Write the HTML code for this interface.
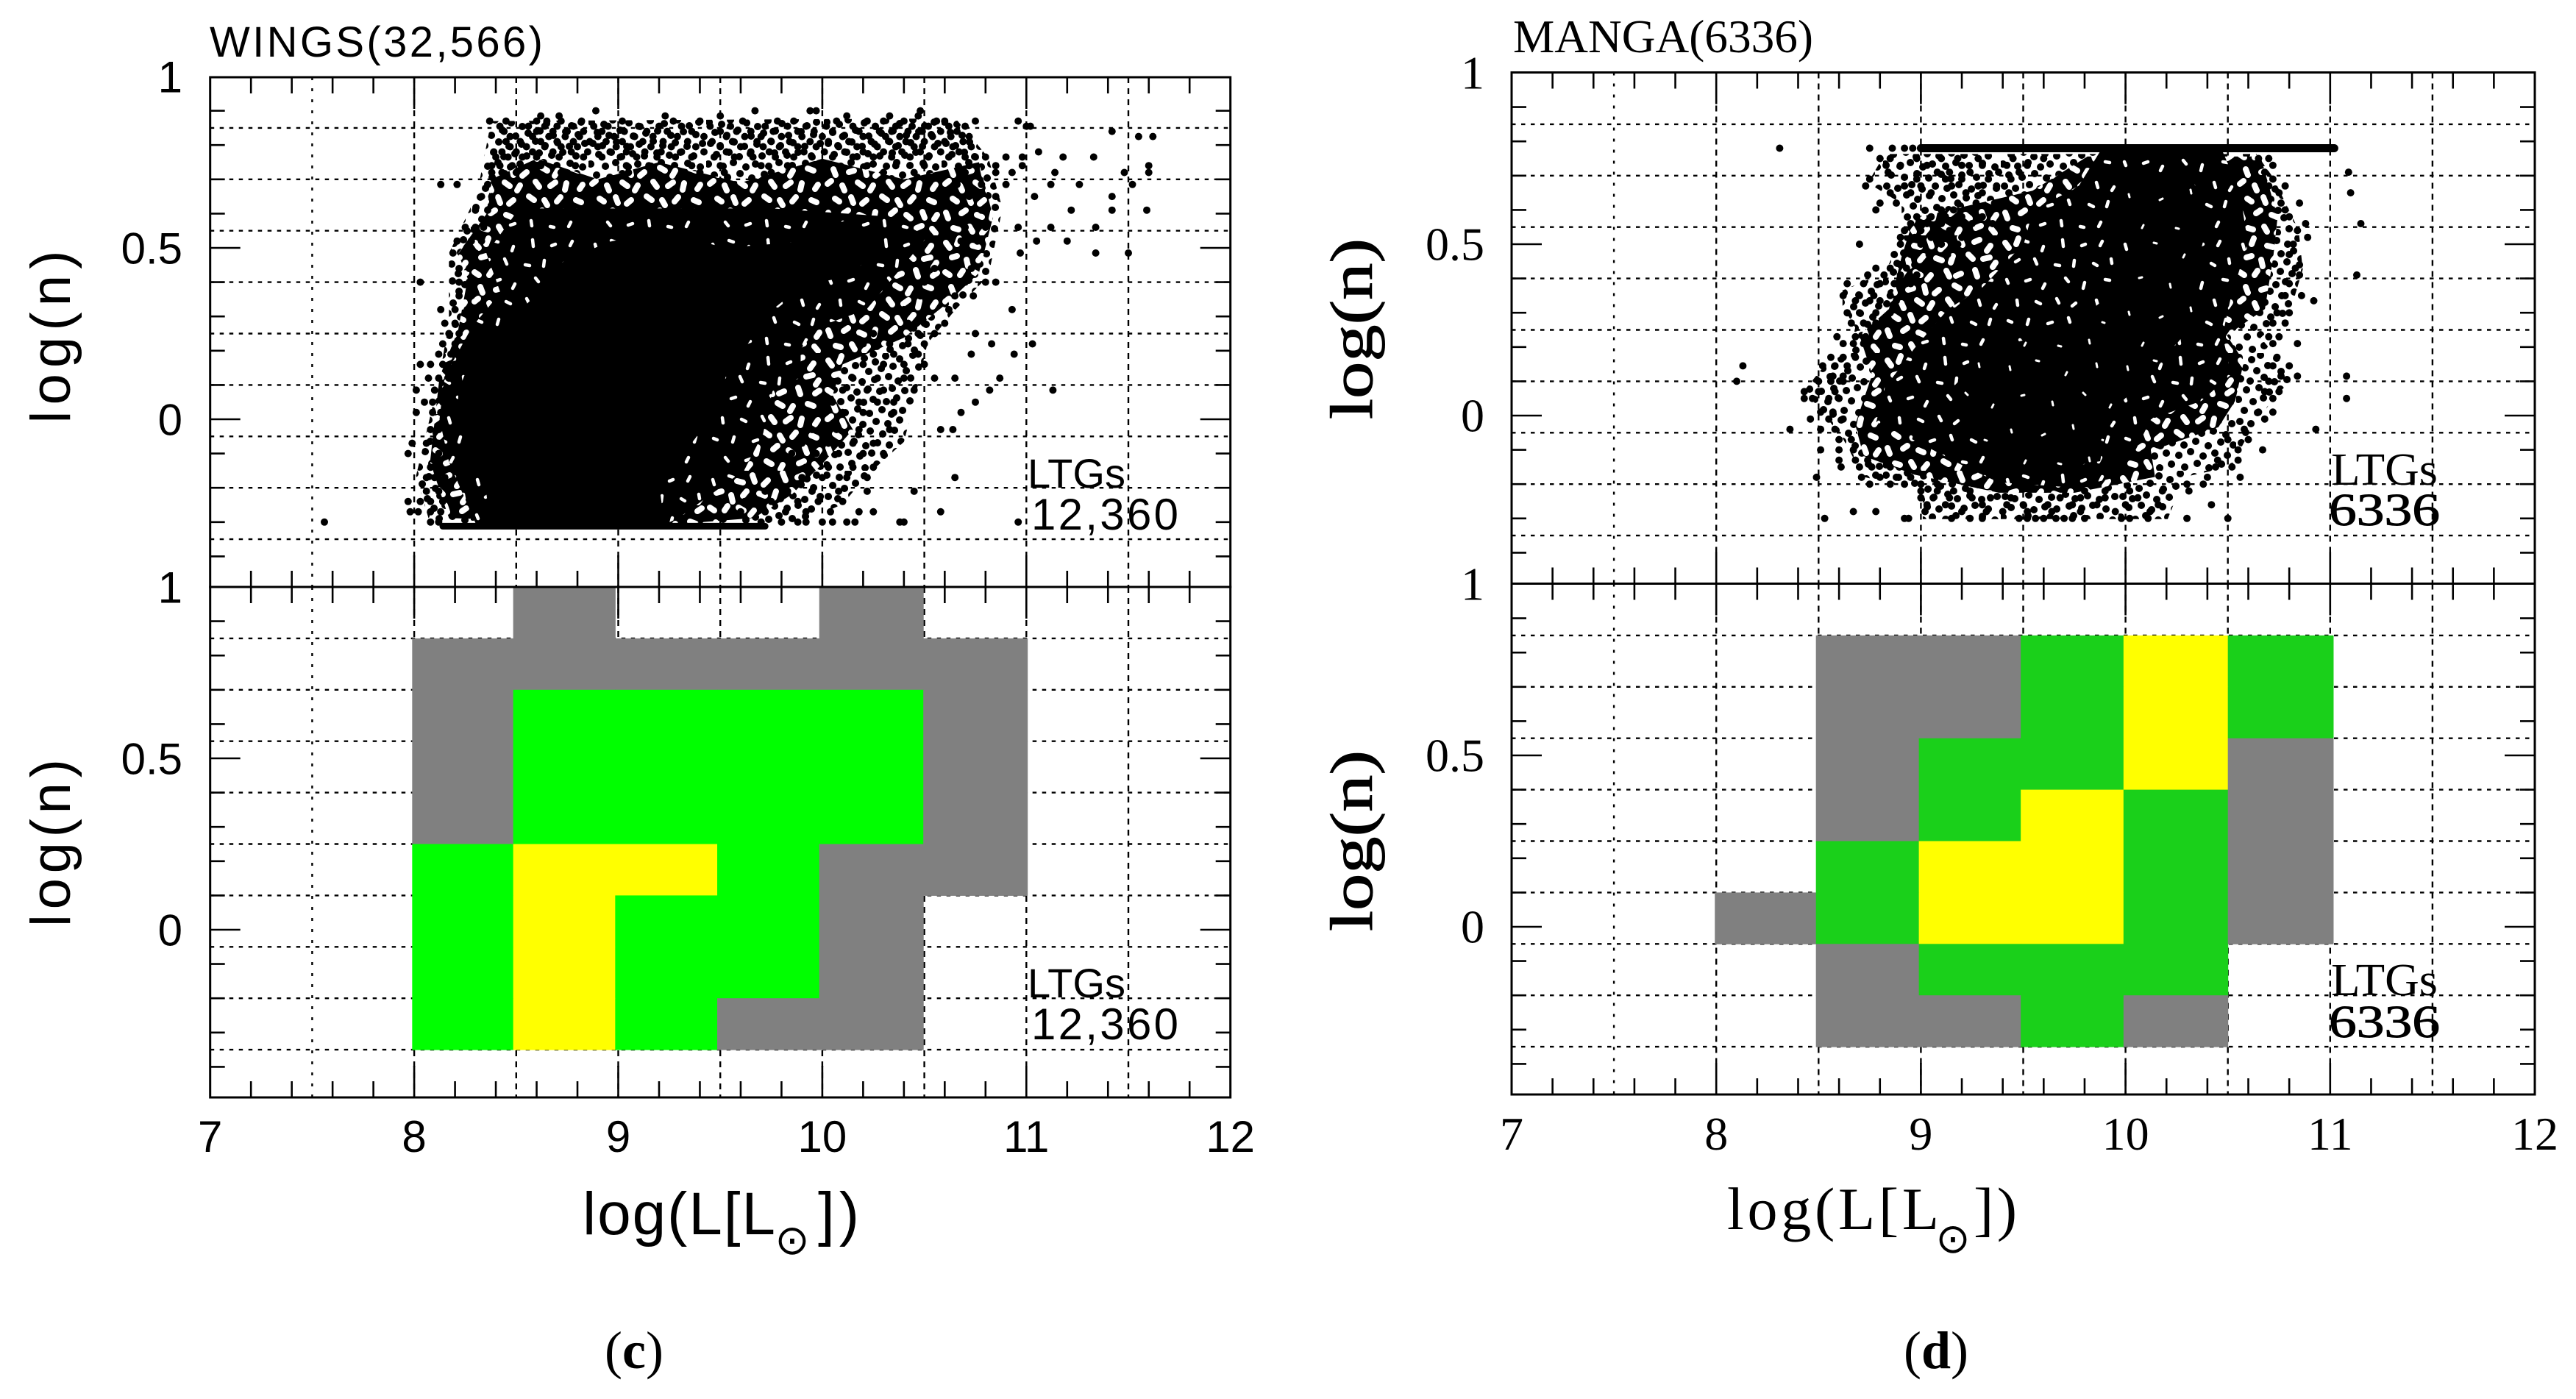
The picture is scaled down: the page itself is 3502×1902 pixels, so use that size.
<!DOCTYPE html>
<html lang="en">
<head>
<meta charset="utf-8">
<title>WINGS and MANGA log(n) vs log(L)</title>
<style>
html,body{margin:0;padding:0;background:#fff}
svg{display:block}
.sans{font-family:"Liberation Sans",sans-serif}
.serif{font-family:"Liberation Serif",serif}
</style>
</head>
<body>
<svg id="figure" xmlns="http://www.w3.org/2000/svg" width="3502" height="1902" viewBox="0 0 3502 1902">
<defs>
<pattern id="tile-sparse" patternUnits="userSpaceOnUse" width="160" height="160">
<path d="M4 6h.1M21 9h.1M33 3h.1M55 7h.1M70 12h.1M84 4h.1M103 8h.1M121 3h.1M137 11h.1M150 6h.1M12 20h.1M28 24h.1M43 17h.1M61 25h.1M78 21h.1M94 18h.1M112 24h.1M129 19h.1M146 23h.1M6 35h.1M19 38h.1M38 33h.1M52 39h.1M69 36h.1M88 32h.1M101 38h.1M118 34h.1M134 39h.1M155 35h.1M14 50h.1M31 47h.1M45 53h.1M60 49h.1M76 52h.1M93 48h.1M110 51h.1M125 47h.1M143 52h.1M3 63h.1M23 66h.1M37 61h.1M54 67h.1M67 63h.1M85 66h.1M99 61h.1M117 65h.1M135 62h.1M152 67h.1M11 78h.1M29 81h.1M46 76h.1M62 82h.1M79 77h.1M92 83h.1M107 78h.1M127 81h.1M144 76h.1M5 93h.1M20 96h.1M39 91h.1M53 97h.1M71 93h.1M87 96h.1M103 91h.1M120 97h.1M136 92h.1M154 96h.1M13 108h.1M32 105h.1M47 111h.1M63 106h.1M80 110h.1M96 105h.1M113 109h.1M129 106h.1M146 111h.1M7 122h.1M24 125h.1M41 120h.1M57 126h.1M73 122h.1M89 125h.1M105 120h.1M122 126h.1M139 121h.1M156 125h.1M15 138h.1M33 135h.1M49 140h.1M65 136h.1M82 139h.1M98 134h.1M115 140h.1M131 136h.1M148 139h.1M4 152h.1M22 155h.1M38 150h.1M56 156h.1M72 151h.1M90 155h.1M107 150h.1M123 156h.1M140 151h.1M155 154h.1" stroke="#000" stroke-width="10" stroke-linecap="round" fill="none"/>
</pattern>
<pattern id="tile-medium" patternUnits="userSpaceOnUse" width="160" height="160">
<rect width="160" height="160" fill="#000"/>
<path d="M6 10l5 7M24 4l-3 8M42 14l8 2M63 6l3 9M84 13l-6 6M104 3l4 10M124 9l7-3M146 14l-5 7M14 30l7-2M34 33l2 9M55 28l-5 6M72 31l8 3M95 28l-3 9M116 26l6 6M136 32l9-2M153 37l-4 6M5 50l6 4M25 54l4-6M44 50l7 4M65 54l-5 6M86 48l4 8M106 52l-7 3M125 47l3 9M148 55l6-4M13 70l3 8M34 74l7-2M56 69l2 9M76 74l-6 5M97 68l7 4M118 72l-4 7M138 69l8 3M5 90l5-4M25 92l3 7M46 88l7 5M67 92l-4 7M88 87l5 7M108 93l7-5M130 89l-2 9M152 91l-4 6M15 110l6 4M37 108l3 8M58 112l-6 5M79 107l7 5M100 112l4 7M122 108l-5 6M143 112l7 3M6 129l3 8M27 130l6-4M48 132l7 3M70 128l-2 9M91 131l6-5M112 132l6 5M134 128l3 8M154 132l-4 6M16 150l7 2M38 148l4 7M60 151l-5 6M82 147l7 4M104 152l-3 6M126 150l7-3M147 151l5 6" stroke="#fff" stroke-width="8" stroke-linecap="round" fill="none"/>
</pattern>
<pattern id="tile-dense" patternUnits="userSpaceOnUse" width="160" height="160">
<rect width="160" height="160" fill="#000"/>
<path d="M9 12l2 7M31 7l6 2M58 15l-2 6M84 6l1 9M110 14l5-2M138 8l-3 6M20 36l5-3M46 32l3 7M74 40l6 1M100 34l-1 8M126 38l5 3M150 32l1 6M8 60l2 5M34 62l6-2M60 66l-3 6M88 58l4 5M114 64l-2 8M142 60l6 1M22 88l1 7M48 90l6 3M76 86l3 6M102 92l-5 4M130 88l2 7M154 94l-3 5M10 116l5 2M38 114l-2 7M64 120l6-2M92 112l2 6M120 118l6 3M146 114l-2 7M26 142l4 5M54 146l6-2M82 140l1 7M108 148l5 1M136 142l-3 6" stroke="#fff" stroke-width="4.5" stroke-linecap="round" fill="none"/>
</pattern>
<pattern id="tile-core" patternUnits="userSpaceOnUse" width="160" height="160">
<rect width="160" height="160" fill="#000"/>
<path d="M12 18l1 5M48 10l4 1M90 26l-2 4M130 14l1 5M28 58l4-1M70 66l1 5M112 54l3 3M150 70l-2 4M14 104l1 4M56 112l4-2M98 98l1 5M138 118l3 1M34 146l-2 4M78 150l4 1M120 142l1 5" stroke="#fff" stroke-width="3" stroke-linecap="round" fill="none"/>
</pattern>
</defs>
<g id="layer-grid"></g>
<g id="layer-marks"></g>
<g id="layer-frame"></g>
<g id="layer-labels"></g>

<text class="sans" x="285" y="77" font-size="58" textLength="453" fill="#000">WINGS(32,566)</text>
<text class="serif" x="2057" y="71" font-size="64" textLength="408" lengthAdjust="spacingAndGlyphs" fill="#000">MANGA(6336)</text>

<text class="sans" transform="translate(95,458) rotate(-90)" text-anchor="middle" font-size="76" textLength="235" fill="#000">log(n)</text>
<text class="sans" transform="translate(95,1146) rotate(-90)" text-anchor="middle" font-size="76" textLength="228" fill="#000">log(n)</text>
<text class="serif" transform="translate(1865,447) rotate(-90)" text-anchor="middle" font-size="82" textLength="246" lengthAdjust="spacingAndGlyphs" fill="#000" stroke="#000" stroke-width="1">log(n)</text>
<text class="serif" transform="translate(1865,1143) rotate(-90)" text-anchor="middle" font-size="82" textLength="246" lengthAdjust="spacingAndGlyphs" fill="#000" stroke="#000" stroke-width="1">log(n)</text>

<g>
<text class="sans" x="792" y="1678" font-size="82" textLength="262" fill="#000">log(L[L</text>
<text x="1077" y="1705" font-size="56" text-anchor="middle" style="font-family:'DejaVu Sans',sans-serif" fill="#000">⊙</text>
<text class="sans" x="1112" y="1678" font-size="82" textLength="56" fill="#000">])</text>
</g>
<g>
<text class="serif" x="2348" y="1671" font-size="82" textLength="288" fill="#000">log(L[L</text>
<text x="2655" y="1703" font-size="56" text-anchor="middle" style="font-family:'DejaVu Sans',sans-serif" fill="#000">⊙</text>
<text class="serif" x="2683" y="1671" font-size="82" textLength="59" fill="#000">])</text>
</g>

<text class="sans" x="1397" y="663" font-size="56" textLength="133" fill="#000">LTGs</text>
<text class="sans" x="1402" y="720" font-size="60" textLength="200" fill="#000">12,360</text>
<text class="sans" x="1397" y="1356" font-size="56" textLength="133" fill="#000">LTGs</text>
<text class="sans" x="1402" y="1413" font-size="60" textLength="200" fill="#000">12,360</text>
<text class="serif" x="3169" y="659" font-size="62" textLength="145" lengthAdjust="spacingAndGlyphs" fill="#000">LTGs</text>
<text class="serif" x="3166" y="714" font-size="62" textLength="151" lengthAdjust="spacingAndGlyphs" fill="#000" stroke="#000" stroke-width="1">6336</text>
<text class="serif" x="3169" y="1353" font-size="62" textLength="145" lengthAdjust="spacingAndGlyphs" fill="#000">LTGs</text>
<text class="serif" x="3166" y="1410" font-size="62" textLength="151" lengthAdjust="spacingAndGlyphs" fill="#000" stroke="#000" stroke-width="1">6336</text>

<text class="serif" x="862" y="1860" font-size="72" text-anchor="middle" fill="#000">(<tspan font-weight="bold">c</tspan>)</text>
<text class="serif" x="2632" y="1860" font-size="72" text-anchor="middle" fill="#000">(<tspan font-weight="bold">d</tspan>)</text>
</svg>

<script>
// ---- axis values ----
const xTickValues = [7, 8, 9, 10, 11, 12];
const xTickLabels = ['7', '8', '9', '10', '11', '12'];
const yTickValues = [1, 0.5, 0];
const yTickLabels = ['1', '0.5', '0'];
const xGridValues = [7.5, 8, 8.5, 9, 9.5, 10, 10.5, 11, 11.5];
const yGridValues = [0.85, 0.7, 0.55, 0.4, 0.25, 0.1, -0.05, -0.2, -0.35];

// ---- binned panels: rows listed from top to bottom ----
const wingsBinEdgesX = [7.99, 8.485, 8.985, 9.485, 9.985, 10.495, 11.005];
const mangaBinEdgesX = [7.993, 8.487, 8.99, 9.488, 9.99, 10.5, 11.015];
const wingsBinStartY = [0.85, 0.7, 0.55, 0.4, 0.25, 0.1, -0.05, -0.2, -0.35];
const mangaBinStartY = [0.7, 0.55, 0.4, 0.25, 0.1, -0.05, -0.2, -0.35];
const wingsLevels = [
 [0,1,0,0,1,0],
 [1,1,1,1,1,1],
 [1,2,2,2,2,1],
 [1,2,2,2,2,1],
 [1,2,2,2,2,1],
 [2,3,3,2,1,1],
 [2,3,2,2,1,0],
 [2,3,2,2,1,0],
 [2,3,2,1,1,0]
];
const mangaLevels = [
 [0,1,1,2,3,2],
 [0,1,1,2,3,2],
 [0,1,2,2,3,1],
 [0,1,2,3,2,1],
 [0,2,3,3,2,1],
 [1,2,3,3,2,1],
 [0,1,2,2,2,0],
 [0,1,1,2,1,0]
];

// ---- overplotted regions, [log L, log n] vertices ----
const wingsSparseRegion = [[8.377,.87],[10.653,.878],[10.814,.763],[10.883,.615],[10.814,.418],[10.653,.32],[10.515,.221],[10.446,.041],[10.4,-.066],[10.216,-.165],[10.101,-.247],[9.894,-.304],[8.078,-.304],[8.009,-.165],[8.124,.123],[8.17,.287],[8.17,.484],[8.308,.657]];
const wingsMediumRegion = [[8.377,.7],[8.6,.76],[8.9,.7],[9.2,.75],[9.6,.69],[10,.76],[10.4,.7],[10.768,.75],[10.837,.591],[10.768,.427],[10.607,.336],[10.4,.238],[10.1,.16],[10.05,.07],[10.15,-.03],[10,-.13],[9.85,-.22],[9.664,-.288],[9.2,-.31],[8.17,-.288],[8.078,-.124],[8.124,.123],[8.216,.262],[8.262,.41],[8.216,.484],[8.354,.599]];
const wingsDenseRegion = [[8.515,.615],[9.066,.615],[9.756,.615],[10.331,.591],[10.515,.533],[10.354,.418],[10.216,.32],[9.986,.271],[9.894,.205],[9.894,.123],[9.756,.082],[9.71,-.041],[9.618,-.148],[9.296,-.288],[9.204,-.313],[8.308,-.313],[8.17,-.124],[8.124,0],[8.147,.123],[8.285,.271],[8.423,.369],[8.354,.484]];
const wingsCoreRegion = [[8.377,-.313],[9.227,-.313],[9.204,-.206],[9.342,-.083],[9.48,.024],[9.526,.123],[9.664,.246],[9.756,.32],[9.894,.386],[10.124,.418],[10.262,.484],[10.308,.533],[10.124,.583],[9.871,.517],[9.526,.5],[9.204,.55],[8.951,.517],[8.699,.451],[8.607,.369],[8.469,.287],[8.308,.221],[8.216,.082],[8.216,-.025],[8.331,-.124]];
const mangaSparseRegion = [[9.009,-.302],[10.206,-.302],[10.289,-.179],[10.516,-.149],[10.598,-.057],[10.722,.05],[10.825,.112],[10.66,.227],[10.804,.303],[10.866,.426],[10.846,.541],[10.722,.694],[10.64,.763],[8.824,.763],[8.741,.679],[8.906,.618],[8.906,.518],[8.824,.418],[8.617,.365],[8.617,.319],[8.679,.257],[8.658,.196],[8.514,.135],[8.431,.074],[8.535,-.003],[8.617,-.065],[8.72,-.179],[9.009,-.218]];
const mangaMediumRegion = [[8.989,.579],[9.546,.656],[9.814,.756],[10.66,.756],[10.743,.579],[10.722,.464],[10.681,.311],[10.495,.234],[10.578,.158],[10.536,.043],[10.454,-.034],[10.124,-.103],[10.144,-.179],[9.752,-.225],[9.381,-.225],[8.968,-.172],[8.72,-.118],[8.679,-.026],[8.762,.12],[8.7,.234],[8.844,.311],[8.906,.464],[8.947,.541]];
const mangaDenseRegion = [[9.876,.771],[10.474,.771],[10.557,.656],[10.598,.503],[10.516,.349],[10.474,.234],[10.516,.12],[10.371,.043],[10.124,-.011],[10.041,-.11],[9.958,-.179],[9.752,-.21],[9.381,-.195],[9.216,-.149],[8.968,-.072],[8.782,-.018],[8.824,.081],[8.968,.196],[9.133,.311],[9.298,.372],[9.504,.503],[9.546,.595],[9.773,.671]];
const mangaCoreRegion = [[9.958,.694],[10.33,.694],[10.392,.541],[10.33,.388],[10.392,.311],[10.124,.12],[9.917,.005],[9.876,-.133],[9.504,-.172],[9.298,-.072],[9.154,.081],[9.339,.196],[9.711,.25],[9.917,.349],[10.041,.503]];

// ---- saturated bands, [log L start, log L end, log n] ----
const wingsFloorBand = [8.14, 9.72, -0.312];
const mangaCeilingBand = [9.0, 11.02, 0.78];

// ---- individually read points: [log n, log L, log L, ...] ----
const wingsRows = [
[.9,8.89,9.67,9.94,9.97,10.48],
[.885,8.62,8.71,9.23,9.5,10.12,10.33,10.47],
[.87,8.37,8.45,8.6,8.65,8.72,8.82,9.02,9.27,9.4,9.61,9.78,9.86,10.07,10.22,10.3,10.4,10.56,10.6,10.75,10.96],
[.855,8.42,8.56,8.64,8.7,8.78,8.88,8.95,9.1,9.2,9.31,9.45,9.55,9.72,9.83,9.92,10.02,10.15,10.26,10.36,10.44,10.52,10.62,10.7,11,11.02],
[.84,8.44,8.6,8.68,8.75,8.83,8.92,9.03,9.14,9.24,9.36,9.5,9.58,9.65,9.76,9.88,9.96,10.05,10.18,10.28,10.34,10.42,10.49,10.58,10.66,11.42],
[.825,8.47,8.58,8.66,8.74,8.81,8.9,8.98,9.08,9.17,9.29,9.42,9.53,9.62,9.7,9.8,9.9,10,10.1,10.2,10.31,10.38,10.46,10.54,10.63,10.72,11.55,11.62],
[.81,8.45,8.52,8.62,8.7,8.78,8.86,8.94,9.02,9.12,9.22,9.34,9.46,9.56,9.68,9.75,9.84,9.94,10.03,10.13,10.24,10.33,10.41,10.5,10.6,10.69],
[.795,8.47,8.55,8.64,8.72,8.8,8.9,8.99,9.06,9.16,9.26,9.38,9.5,9.6,9.71,9.79,9.88,9.97,10.08,10.17,10.27,10.36,10.45,10.55,10.64,10.73],
[.78,8.39,8.43,8.5,8.58,8.68,8.77,8.85,8.96,9.04,9.13,9.21,9.31,9.42,9.53,9.65,9.74,9.82,9.91,10.01,10.11,10.2,10.3,10.39,10.48,10.58,10.67,11.06],
[.765,8.4,8.46,8.53,8.6,8.71,8.83,8.92,9.01,9.09,9.19,9.28,9.36,9.47,9.57,9.66,9.77,9.86,9.95,10.05,10.15,10.25,10.34,10.43,10.52,10.62,10.7,10.75,10.8,10.9,11.33,10.98,11.18],
[.74,8.38,8.42,8.48,8.62,8.79,9.04,9.15,9.36,9.5,9.7,9.83,10.22,10.36,10.5,10.72,10.85,10.98,11.6],
[.72,8.38,8.43,8.5,8.72,9.05,9.4,9.52,9.75,10.3,10.45,10.7,10.85,10.93,11.14,11.48,11.6],
[.685,8.13,8.21,8.36,8.4,10.66,10.78,10.9,11.26,11.52,11.12],
[.65,8.33,8.38,10.72,10.85,11.04,11.42],
[.61,8.3,8.36,10.65,10.78,11.22,11.42,11.59],
[.56,8.25,8.3,8.34,10.7,10.8,10.96,11.12,11.34],
[.52,8.21,8.28,8.33,10.68,10.76,11.2,11.05],
[.485,8.19,8.25,8.3,10.6,10.72,10.97,11.34,11.5],
[.44,8.22,8.27,10.55,10.65,10.73],
[.4,8.03,8.22,8.27,10.5,10.6,10.7,10.85,10.8],
[.36,8.22,8.28,10.48,10.58,10.65,10.74],
[.32,8.13,8.2,8.26,10.4,10.5,10.62,10.93],
[.28,8.15,8.2,8.27,10.3,10.42,10.5,10.6],
[.25,8.17,8.22,10.25,10.38,10.47,10.55,10.75],
[.22,8.14,8.2,10.2,10.33,10.42,10.5,10.83,11.03],
[.19,8.12,8.18,10.25,10.35,10.47,10.94,10.73],
[.16,8.03,8.08,8.14,8.2,10.2,10.3,10.4,10.5],
[.12,8.07,8.12,8.17,10.15,10.27,10.4,10.55,10.65,10.87],
[.085,8.01,8.1,8.15,10.1,10.22,10.3,10.45,10.82,11.13],
[.05,8.05,8.09,8.14,10.05,10.18,10.27,10.35,10.75],
[.02,8.01,8.09,8.13,10,10.1,10.2,10.35,10.68],
[-.03,8.08,8.12,8.17,9.95,10.07,10.18,10.33,10.58,10.64],
[-.07,7.99,8.06,8.12,9.9,10.03,10.15,10.25],
[-.1,7.97,8.12,8.16,9.85,9.97,10.08,10.2,10.3],
[-.14,8.08,8.13,9.85,9.92,10.03,10.15,10.25],
[-.17,8.06,8.1,8.15,9.78,9.9,10,10.12,10.22,10.65],
[-.21,8.06,8.12,9.72,9.83,9.95,10.08,10.22,10.45],
[-.24,7.97,8.03,8.08,8.14,9.62,9.75,9.88,9.98,10.1],
[-.27,7.98,8.02,8.08,8.13,9.6,9.72,9.82,9.92,10.04,10.18,10.25,10.58],
[-.3,7.56,8.08,8.12,9.7,9.8,9.88,9.92,10,10.05,10.12,10.16,10.38,10.4,10.96]
];
const mangaRows = [
[.78,8.31,8.75,8.86,8.92,8.96],
[.75,8.8,8.85,8.98,9.1,9.18,9.28,9.45,9.6,10.65,10.7],
[.73,8.83,8.9,9.03,9.2,9.3,9.42,9.52,10.62,10.72],
[.71,8.84,9.08,9.14,9.24,9.38,9.48,10.68,11.09],
[.69,8.75,8.98,9.12,9.2,9.33,9.44,10.72],
[.67,8.73,8.92,9,9.15,9.28,9.37,10.7,10.78],
[.65,8.85,8.95,9.05,9.22,9.3,9.43,10.75,11.1],
[.62,8.8,8.88,9.18,9.27,9.36,10.85,10.76],
[.6,8.78,9.1,9.16,9.24,9.33,10.78],
[.58,8.98,9.05,9.12,9.2,9.3,10.8],
[.56,8.95,9.03,9.1,9.17,9.25,9.35,10.88,11.15],
[.54,8.92,9,9.08,9.14,9.24,10.84],
[.52,8.9,8.97,9.05,9.12,9.2,10.89],
[.5,8.7,8.9,9,9.1,9.18,10.82],
[.47,8.87,8.95,9.04,9.13,10.8],
[.44,8.9,8.97,9.05,10.85],
[.43,8.78,8.85,8.93,9,10.83],
[.41,8.74,8.82,8.9,8.98,10.85,11.13],
[.385,8.64,8.72,8.8,8.87,8.95,10.8],
[.35,8.62,8.7,8.77,8.85,8.92,10.86,10.78],
[.335,8.68,8.75,8.8,8.88,10.92],
[.3,8.64,8.7,8.78,8.85,10.74,10.8],
[.27,8.66,8.72,8.78,10.72,10.78],
[.23,8.59,8.68,8.73,10.7,10.75],
[.21,8.62,8.67,8.72,10.72,10.84],
[.17,8.56,8.62,8.68,10.74],
[.145,8.13,8.52,8.58,8.64,10.72,10.8],
[.115,8.57,8.62,10.76,10.84,11.08],
[.1,8.1,8.5,8.56,8.62,10.7],
[.07,8.43,8.5,8.58,10.68,10.75],
[.05,8.43,8.47,8.55,8.6,10.72,11.08],
[.01,8.51,8.57,10.65,10.72],
[-.01,8.46,8.55,8.62,10.68],
[-.04,8.36,8.51,8.58,10.58,10.93],
[-.07,8.6,8.66,10.5,10.6],
[-.1,8.51,8.6,8.67,10.55,10.67],
[-.13,8.6,8.68,8.74,10.45,10.55],
[-.15,8.61,8.7,8.76,8.85,10.44,10.52],
[-.18,8.49,8.71,8.8,8.88,8.95,10.4,10.56],
[-.2,8.75,8.85,8.92,9,9.08,10.3,10.38],
[-.22,9,9.08,9.16,9.24,9.8,9.9,10.02,10.18,10.31],
[-.24,9,9.06,9.14,9.25,9.34,9.44,9.68,9.78,9.9,10.06],
[-.26,9.03,9.12,9.3,9.42,9.5,9.62,9.74,9.86,10,10.16,10.42],
[-.28,8.67,8.78,9.02,9.2,9.32,9.4,9.52,9.64,9.78,9.95,10.12],
[-.3,8.53,8.92,8.94,9.15,9.24,9.3,9.48,9.52,9.56,9.6,9.66,9.7,9.74,9.8,9.98,10.02,10.11,10.3,10.5]
];

// ---- panel geometry ----
const svgNS = 'http://www.w3.org/2000/svg';
const gridLayer = document.getElementById('layer-grid');
const marksLayer = document.getElementById('layer-marks');
const frameLayer = document.getElementById('layer-frame');
const labelLayer = document.getElementById('layer-labels');

function makeEl(tag, parent, attrs) {
  const el = document.createElementNS(svgNS, tag);
  for (const k in attrs) el.setAttribute(k, attrs[k]);
  parent.appendChild(el);
  return el;
}
function axisX(p, v) { return p.x7 + (v - 7) * p.ux; }
function axisY(p, v) { return p.y0 - v * p.uy; }

function drawFrameAndGrid(p) {
  for (const v of xGridValues) {
    const x = axisX(p, v);
    const gridLine = makeEl('line', gridLayer, {x1:x, x2:x, y1:p.top, y2:p.bottom, stroke:'#000', 'stroke-width':2.4, 'stroke-dasharray': v === 7.5 ? '4 11' : '8 7'});
    
    
  }
  for (const v of yGridValues) {
    const y = axisY(p, v);
    const gridLine = makeEl('line', gridLayer, {x1:p.x7, x2:axisX(p, 12), y1:y, y2:y, stroke:'#000', 'stroke-width':2.4, 'stroke-dasharray':'5.5 7.5'});
    
    
  }
  for (let i = 1; i < 25; i++) {
    const v = 7 + i * 0.2;
    const major = i % 5 === 0;
    const len = major ? 43 : 22;
    const x = axisX(p, v);
    const topTick = makeEl('line', gridLayer, {x1:x, x2:x, y1:p.top, y2:p.top + len, stroke:'#000', 'stroke-width':2.6});
    
    
    const bottomTick = makeEl('line', gridLayer, {x1:x, x2:x, y1:p.bottom, y2:p.bottom - len, stroke:'#000', 'stroke-width':2.6});
    
    
  }
  for (let i = -4; i <= 9; i++) {
    const major = i === 0 || i === 5;
    const len = major ? 41 : 20;
    const y = axisY(p, i / 10);
    const leftTick = makeEl('line', gridLayer, {x1:p.x7, x2:p.x7 + len, y1:y, y2:y, stroke:'#000', 'stroke-width':2.6});
    
    
    const rightTick = makeEl('line', gridLayer, {x1:axisX(p, 12), x2:axisX(p, 12) - len, y1:y, y2:y, stroke:'#000', 'stroke-width':2.6});
    
    
  }
  const frame = makeEl('rect', frameLayer, {x:p.x7, y:p.top, width:axisX(p, 12) - p.x7, height:p.bottom - p.top, fill:'none', stroke:'#000', 'stroke-width':3});
  
  
}

function drawYLabels(p) {
  yTickValues.forEach(function (v, i) {
    const label = makeEl('text', labelLayer, {x:p.labelX, y:axisY(p, v) + p.digitH / 2, 'text-anchor':'end', 'font-size':p.labelSize, 'font-family':p.font, fill:'#000'});
    label.textContent = yTickLabels[i];
    
    
  });
}
function drawXLabels(p, baseline) {
  xTickValues.forEach(function (v, i) {
    const label = makeEl('text', labelLayer, {x:axisX(p, v), y:baseline, 'text-anchor':'middle', 'font-size':p.labelSize, 'font-family':p.font, fill:'#000'});
    label.textContent = xTickLabels[i];
    
    
  });
}
function drawRegion(p, region, fill, name) {
  const pts = region.map(function (d) { return axisX(p, d[0]).toFixed(1) + ',' + axisY(p, d[1]).toFixed(1); }).join(' ');
  const poly = makeEl('polygon', marksLayer, {points:pts, fill:fill});
  
  
}
function drawBand(p, band, width) {
  const line = makeEl('line', marksLayer, {x1:axisX(p, band[0]), x2:axisX(p, band[1]), y1:axisY(p, band[2]), y2:axisY(p, band[2]), stroke:'#000', 'stroke-width':width, 'stroke-linecap':'round'});
  
  
}
function drawRows(p, rows) {
  for (const row of rows) {
    for (let i = 1; i < row.length; i++) {
      const dot = makeEl('circle', marksLayer, {cx:axisX(p, row[i]).toFixed(1), cy:axisY(p, row[0]).toFixed(1), r:5, fill:'#000'});
      
      
    }
  }
}
function drawCells(p, edgesX, startY, levels, colors) {
  levels.forEach(function (row, r) {
    row.forEach(function (level, c) {
      if (!level) return;
      const x1 = axisX(p, edgesX[c]);
      const x2 = axisX(p, edgesX[c + 1]);
      const y1 = axisY(p, startY[r] + 0.15);
      const y2 = axisY(p, startY[r]);
      const cell = makeEl('rect', marksLayer, {x:x1, y:y1, width:x2 - x1 + 0.5, height:y2 - y1 + 0.5, fill:colors[level]});
      
      
    });
  });
}

const wingsScatter = {x7:285.7, ux:277.4, y0:570, uy:466, top:105, bottom:798, labelX:248, labelSize:60, digitH:43, font:'"Liberation Sans", sans-serif'};
const wingsBinned = {x7:285.7, ux:277.4, y0:1264, uy:466, top:798, bottom:1492, labelX:248, labelSize:60, digitH:43, font:'"Liberation Sans", sans-serif'};
const mangaScatter = {x7:2055, ux:278.2, y0:565, uy:466, top:98.5, bottom:793.5, labelX:2018, labelSize:64, digitH:43, font:'"Liberation Serif", serif'};
const mangaBinned = {x7:2055, ux:278.2, y0:1260, uy:466, top:793.5, bottom:1488, labelX:2018, labelSize:64, digitH:43, font:'"Liberation Serif", serif'};

[wingsScatter, wingsBinned, mangaScatter, mangaBinned].forEach(drawFrameAndGrid);
[wingsScatter, wingsBinned, mangaScatter, mangaBinned].forEach(drawYLabels);
drawXLabels(wingsBinned, 1566);
drawXLabels(mangaBinned, 1563);

drawRegion(wingsScatter, wingsSparseRegion, 'url(#tile-sparse)', 'wings-low-density-region');
drawRegion(wingsScatter, wingsMediumRegion, 'url(#tile-medium)', 'wings-medium-density-region');
drawRegion(wingsScatter, wingsDenseRegion, 'url(#tile-dense)', 'wings-high-density-region');
drawRegion(wingsScatter, wingsCoreRegion, '#000', 'wings-saturated-core-region');
drawBand(wingsScatter, wingsFloorBand, 9);
drawRows(wingsScatter, wingsRows);

drawRegion(mangaScatter, mangaSparseRegion, 'url(#tile-sparse)', 'manga-low-density-region');
drawRegion(mangaScatter, mangaMediumRegion, 'url(#tile-medium)', 'manga-medium-density-region');
drawRegion(mangaScatter, mangaDenseRegion, 'url(#tile-dense)', 'manga-high-density-region');
drawRegion(mangaScatter, mangaCoreRegion, 'url(#tile-core)', 'manga-saturated-core-region');
drawBand(mangaScatter, mangaCeilingBand, 11);
drawRows(mangaScatter, mangaRows);

drawCells(wingsBinned, wingsBinEdgesX, wingsBinStartY, wingsLevels, {1:'#808080', 2:'#00ff00', 3:'#ffff00'});
drawCells(mangaBinned, mangaBinEdgesX, mangaBinStartY, mangaLevels, {1:'#808080', 2:'#1ad01a', 3:'#ffff00'});
</script>
</body>
</html>
